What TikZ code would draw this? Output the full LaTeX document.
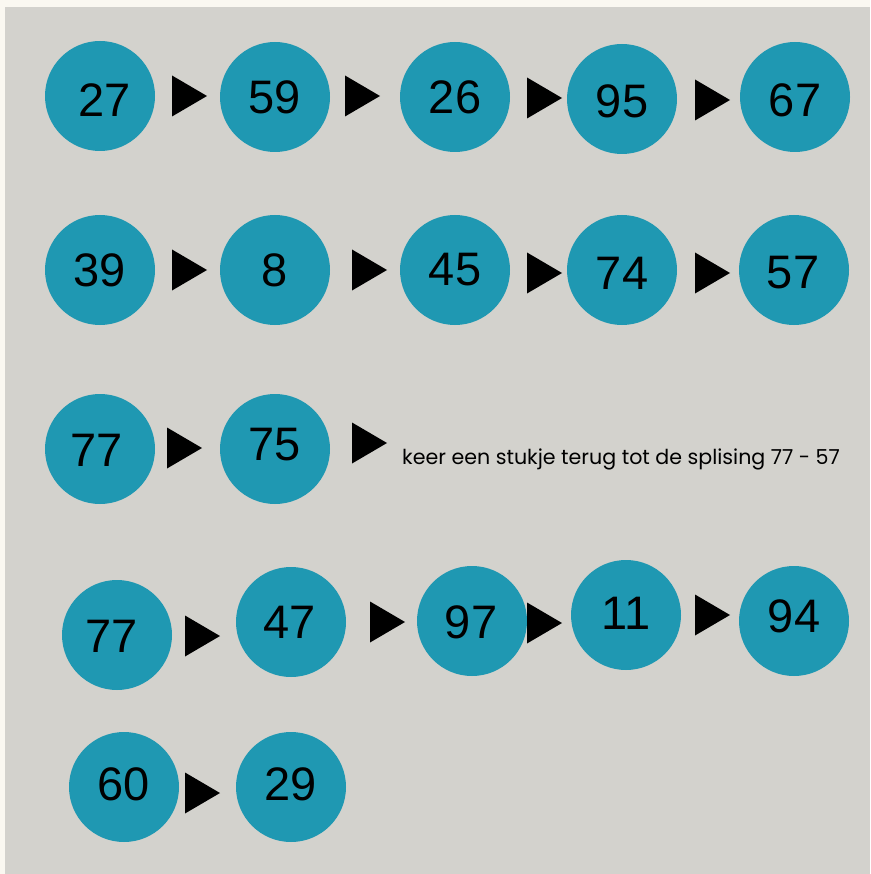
\documentclass[tikz,border=0pt]{standalone}
\usepackage{fontspec}
\setmainfont{Liberation Sans}
\newfontfamily\popfont{Poppins}
\definecolor{cream}{HTML}{FAF8F1}
\definecolor{panel}{HTML}{D3D2CD}
\definecolor{teal}{HTML}{1F98B2}
\begin{document}
\begin{tikzpicture}[x=1pt,y=-1pt,
  ball/.style={circle,fill=teal,minimum size=110pt,inner sep=0pt},
  num/.style={font=\fontsize{47}{50}\selectfont,inner sep=0pt,text=black},
  tri/.pic={\fill[black] (0,-20.5) -- (35,0) -- (0,20.5) -- cycle;}]
\fill[cream] (0,0) rectangle (870,874);
\fill[panel] (5,7) rectangle (870,874);
\useasboundingbox (0,0) rectangle (870,874);
% row 1
\node[ball] (a1) at (100,96) {}; \node[num] (ta1) at (105,100) {27};
\node[ball] (a2) at (275,97) {}; \node[num] (ta2) at (275,97) {59};
\node[ball] (a3) at (455,97) {}; \node[num] (ta3) at (455,97) {26};
\node[ball] (a4) at (622,99) {}; \node[num] (ta4) at (622,101) {95};
\node[ball] (a5) at (795,97) {}; \node[num] (ta5) at (795,100) {67};
\pic at (172,96) {tri}; \pic at (345,96) {tri}; \pic at (527,98) {tri}; \pic at (695,100) {tri};
% row 2
\node[ball] (b1) at (100,270) {}; \node[num] (tb1) at (100,270) {39};
\node[ball] (b2) at (275,270) {}; \node[num] (tb2) at (275,270) {8};
\node[ball] (b3) at (455,270) {}; \node[num] (tb3) at (455,270) {45};
\node[ball] (b4) at (622,270) {}; \node[num] (tb4) at (622,273) {74};
\node[ball] (b5) at (794,270) {}; \node[num] (tb5) at (793,273) {57};
\pic at (172,270) {tri}; \pic at (352,270) {tri}; \pic at (527,273) {tri}; \pic at (695,273) {tri};
% row 3
\node[ball] (c1) at (100,449) {}; \node[num] (tc1) at (97,450) {77};
\node[ball] (c2) at (275,449) {}; \node[num] (tc2) at (275,445) {75};
\pic at (167,448) {tri}; \pic at (352,443) {tri};
\node[anchor=base west,inner sep=0pt,font=\popfont\fontsize{20.6}{24}\selectfont] (note) at (402,464) {keer een stukje terug tot de splising 77 - 57};
% row 4
\node[ball] (d1) at (117,635) {}; \node[num] (td1) at (112,636) {77};
\node[ball] (d2) at (291,622) {}; \node[num] (td2) at (290,622) {47};
\node[ball] (d3) at (472,621) {}; \node[num] (td3) at (471,622) {97};
\node[ball] (d4) at (626,615) {}; \node[num] (td4) at (626,613) {11};
\node[ball] (d5) at (794,621) {}; \node[num] (td5) at (794,616) {94};
\pic at (185,636) {tri}; \pic at (370,622) {tri}; \pic at (527,623) {tri}; \pic at (695,615) {tri};
% row 5
\node[ball] (e1) at (124,787) {}; \node[num] (te1) at (124,784) {60};
\node[ball] (e2) at (291,787) {}; \node[num] (te2) at (291,784) {29};
\pic at (185,793) {tri};
\end{tikzpicture}
\end{document}
